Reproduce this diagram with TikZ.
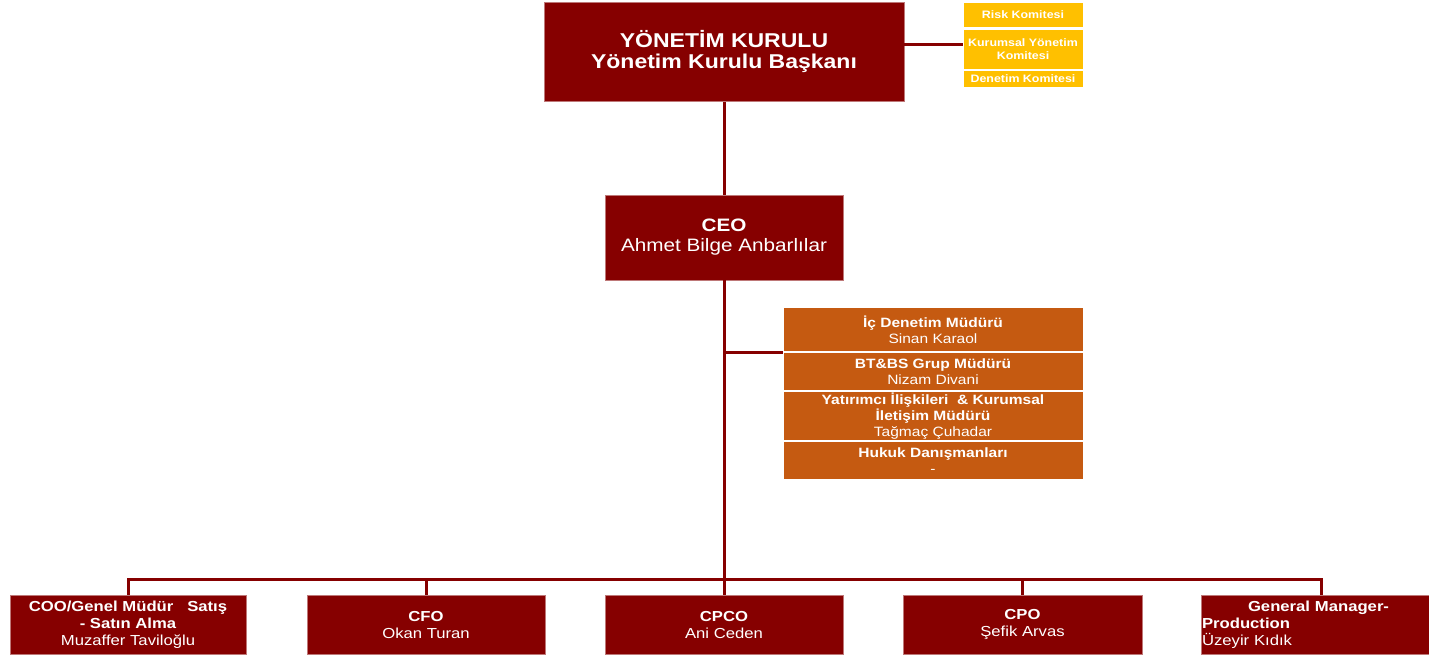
\documentclass[tikz,border=0pt]{standalone}
\usepackage{fontspec}
\setmainfont{Liberation Sans}[FakeStretch=1.15]
\definecolor{dkred}{RGB}{134,0,0}
\definecolor{edgered}{RGB}{190,120,120}
\definecolor{orng}{RGB}{197,90,17}
\definecolor{gold}{RGB}{255,192,0}
\tikzset{
  redbox/.style={fill=dkred, draw=edgered, line width=0.8pt, text=white, inner sep=0pt, align=center},
  orbox/.style={fill=orng, draw=white, line width=1pt, text=white, inner sep=0pt, align=center,
     minimum width=300pt, font=\fontsize{13.5}{15.8}\selectfont},
  gbox/.style={fill=gold, draw=white, line width=1pt, text=white, inner sep=0pt, align=center,
     minimum width=120pt, font=\fontsize{10.8}{13}\selectfont\bfseries},
  botbox/.style={redbox, minimum height=59pt, font=\fontsize{14.5}{17}\selectfont},
  conn/.style={draw=dkred, line width=3pt},
}
\begin{document}
\begin{tikzpicture}[x=1pt,y=-1pt]
\useasboundingbox (0,0) rectangle (1429,654);
% top
\node[redbox, minimum width=360pt, minimum height=99pt, font=\fontsize{20}{21}\selectfont\bfseries] (top) at (724,52)
  {YÖNETİM KURULU\\Yönetim Kurulu Başkanı};
% committees
\node[gbox, minimum height=25pt] (risk) at (1023,14.5) {Risk Komitesi};
\node[gbox, minimum height=40pt] (kur) at (1023,49) {Kurumsal Yönetim\\Komitesi};
\node[gbox, minimum height=17pt] (den) at (1023,78.5) {Denetim Komitesi};
% CEO
\node[redbox, minimum width=238pt, minimum height=85pt, font=\fontsize{18}{20}\selectfont] (ceo) at (724,237.5)
  {\textbf{CEO}\\Ahmet Bilge Anbarlılar};
% orange staff
\node[orbox, minimum height=44pt] (ic) at (933,329.5) {\textbf{İç Denetim Müdürü}\\Sinan Karaol};
\node[orbox, minimum height=38pt] (bt) at (933,371.5) {\textbf{BT\&BS Grup Müdürü}\\Nizam Divani};
\node[orbox, minimum height=49pt] (yat) at (933,416) {\textbf{Yatırımcı İlişkileri \ \& Kurumsal}\\\textbf{İletişim Müdürü}\\Tağmaç Çuhadar};
\node[orbox, minimum height=38pt] (huk) at (933,460.5) {\textbf{Hukuk Danışmanları}\\-};
% bottom row
\node[botbox, minimum width=236pt] (coo) at (128,624.5) {\textbf{COO/Genel Müdür \ \ Satış}\\\textbf{- Satın Alma}\\Muzaffer Taviloğlu};
\node[botbox, minimum width=238pt] (cfo) at (426,624.5) {\textbf{CFO}\\Okan Turan};
\node[botbox, minimum width=238pt] (cpco) at (724,624.5) {\textbf{CPCO}\\Ani Ceden};
\node[botbox, minimum width=239pt] (cpo) at (1022.5,624.5) {\textbf{CPO}\\Şefik Arvas};
\node[botbox, minimum width=228pt, text width=226pt, inner xsep=1pt, align=left] (gm) at (1315,624.5)
  {\hspace*{46pt}\textbf{General Manager-}\\\textbf{Production}\\Üzeyir Kıdık};
% connectors
\coordinate (bus) at (724,579);
\draw[conn] (top.south) -- (ceo.north);
\draw[conn] ([yshift=5pt]kur.west) -- ([yshift=5pt]kur.west -| top.east);
\draw[conn] (ic.south west) -- (ic.south west -| ceo.south);
\draw[conn] (ceo.south) -- (bus);
\draw[conn] (coo.north) -- (coo.north |- bus) -- ([xshift=6pt]gm.north |- bus) -- ([xshift=6pt]gm.north);
\draw[conn] (cfo.north) -- (cfo.north |- bus);
\draw[conn] (cpco.north) -- (bus);
\draw[conn] (cpo.north) -- (cpo.north |- bus);
\end{tikzpicture}
\end{document}
